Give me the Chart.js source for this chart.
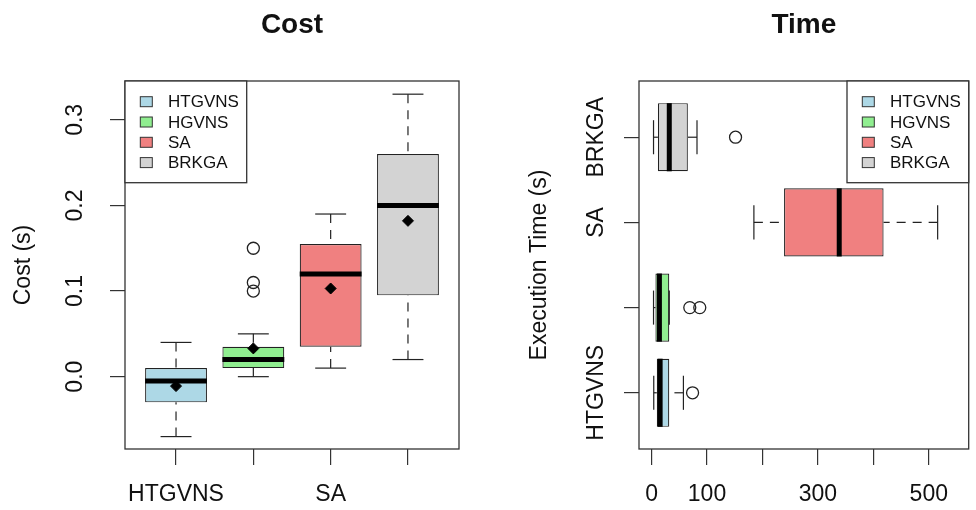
<!DOCTYPE html>
<html>
<head>
<meta charset="utf-8">
<title>Cost and Time</title>
<script src="https://cdn.jsdelivr.net/npm/chart.js"></script>
<style>
  body { margin: 0; background: #fff; }
  .panel { position: absolute; top: 0; width: 488px; height: 510px; }
  #costPanel { left: 0; }
  #timePanel { left: 488px; }
</style>
</head>
<body>
<div class="panel" id="costPanel"><canvas id="costChart" width="488" height="510"></canvas></div>
<div class="panel" id="timePanel"><canvas id="timeChart" width="488" height="510"></canvas></div>
<script>
// algorithms, in plotting order (position 1..4)
const algorithms = ['HTGVNS', 'HGVNS', 'SA', 'BRKGA'];
const fillColors = ['#ADD8E6', '#90EE90', '#F08080', '#D3D3D3'];

// Cost: boxplot stats per algorithm
const costMin = [-0.07, 0.0, 0.01, 0.02];
const costQ1 = [-0.03, 0.01, 0.035, 0.095];
const costMedian = [-0.005, 0.02, 0.12, 0.2];
const costQ3 = [0.01, 0.035, 0.155, 0.26];
const costMax = [0.04, 0.05, 0.19, 0.33];
const costMean = [-0.011, 0.033, 0.103, 0.182];
const costOutliers = [[], [0.10, 0.11, 0.15], [], []];
const costTicks = [0, 0.1, 0.2, 0.3];
const costTickLabels = ['0.0', '0.1', '0.2', '0.3'];
const costCatLabels = ['HTGVNS', '', 'SA', ''];

// Time: boxplot stats per algorithm (seconds)
const timeMin = [4, 3.6, 184.6, 3.6];
const timeQ1 = [9.5, 7, 239, 11.5];
const timeMedian = [15.5, 14.2, 338.5, 32];
const timeQ3 = [32, 32, 418.5, 65.5];
const timeMax = [57.5, 32, 516, 82];
const timeOutliers = [[74], [69, 87], [], [151.5]];
const timeTicks = [0, 100, 200, 300, 400, 500];
const timeTickLabels = ['0', '100', '', '300', '', '500'];
const timeCatLabels = ['HTGVNS', '', 'SA', 'BRKGA'];

const FONT = '"Liberation Sans", Arial, Helvetica, sans-serif';
Chart.defaults.font.family = FONT;
Chart.defaults.color = '#111';

function seg(ctx, a, b) {
  ctx.beginPath();
  ctx.moveTo(a[0], a[1]);
  ctx.lineTo(b[0], b[1]);
  ctx.stroke();
}

// whiskers, staples, medians, frame, rotated labels, legend, title
function boxParts(s) {
  return {
    id: 'boxParts',
    afterDatasetDraw(chart, args) {
      if (args.index !== 0) return;
      const ctx = chart.ctx;
      const iScale = s.horizontal ? chart.scales.y : chart.scales.x;
      const vScale = s.horizontal ? chart.scales.x : chart.scales.y;
      const pt = (i, v) => s.horizontal
        ? [vScale.getPixelForValue(v), iScale.getPixelForValue(i)]
        : [iScale.getPixelForValue(i), vScale.getPixelForValue(v)];
      ctx.save();
      ctx.strokeStyle = '#222';
      ctx.lineCap = 'butt';
      for (let k = 0; k < algorithms.length; k++) {
        const c = k + 1;
        ctx.lineWidth = 1.2;
        ctx.setLineDash([9, 7]);
        seg(ctx, pt(c, s.min[k]), pt(c, s.q1[k]));
        seg(ctx, pt(c, s.max[k]), pt(c, s.q3[k]));
        ctx.setLineDash([]);
        seg(ctx, pt(c - 0.2, s.min[k]), pt(c + 0.2, s.min[k]));
        seg(ctx, pt(c - 0.2, s.max[k]), pt(c + 0.2, s.max[k]));
        ctx.lineWidth = 5;
        ctx.strokeStyle = '#000';
        seg(ctx, pt(c - 0.4, s.median[k]), pt(c + 0.4, s.median[k]));
        ctx.strokeStyle = '#222';
      }
      ctx.restore();
    },
    afterDraw(chart) {
      const ctx = chart.ctx;
      const a = chart.chartArea;
      ctx.save();
      // plot frame
      ctx.strokeStyle = '#333';
      ctx.lineWidth = 1.3;
      ctx.strokeRect(a.left, a.top, a.right - a.left, a.bottom - a.top);

      // rotated tick labels on the left axis
      ctx.fillStyle = '#111';
      ctx.font = '23px ' + FONT;
      ctx.textAlign = 'center';
      ctx.textBaseline = 'alphabetic';
      const yScale = chart.scales.y;
      s.yTicks.forEach((v, k) => {
        if (!s.yLabels[k]) return;
        ctx.save();
        ctx.translate(s.yLabelX, yScale.getPixelForValue(v));
        ctx.rotate(-Math.PI / 2);
        ctx.fillText(s.yLabels[k], 0, 0);
        ctx.restore();
      });

      // title
      ctx.font = 'bold 28px ' + FONT;
      ctx.fillText(s.title, (a.left + a.right) / 2, 33);

      // legend
      const w = 121.7, h = 101.7;
      const lx = s.legendRight ? a.right - w : a.left;
      const ly = a.top;
      ctx.fillStyle = '#fff';
      ctx.fillRect(lx, ly, w, h);
      ctx.strokeRect(lx, ly, w, h);
      ctx.font = '17px ' + FONT;
      ctx.textAlign = 'left';
      ctx.textBaseline = 'middle';
      ctx.lineWidth = 1;
      algorithms.forEach((name, k) => {
        const cy = ly + 20.7 + 20.3 * k;
        ctx.fillStyle = fillColors[k];
        ctx.fillRect(lx + 15.3, cy - 5, 12, 10);
        ctx.strokeStyle = '#333';
        ctx.strokeRect(lx + 15.3, cy - 5, 12, 10);
        ctx.fillStyle = '#111';
        ctx.fillText(name, lx + 43, cy + 1);
      });
      ctx.restore();
    }
  };
}

const tickGrid = {
  drawOnChartArea: false,
  drawTicks: true,
  color: '#333',
  lineWidth: 1.2,
  offset: false
};

// ---------- Cost (vertical boxplots) ----------
const costBoxes = algorithms.map((n, k) => ({ x: k + 1, y: [costQ1[k], costQ3[k]] }));
const costOut = [];
costOutliers.forEach((list, k) => list.forEach(v => costOut.push({ x: k + 1, y: v })));
const costMeans = costMean.map((v, k) => ({ x: k + 1, y: v }));

new Chart(document.getElementById('costChart'), {
  type: 'bar',
  data: {
    datasets: [
      {
        type: 'bar', data: costBoxes, order: 3,
        backgroundColor: fillColors, borderColor: '#222', borderWidth: 1.2,
        borderSkipped: false, barPercentage: 0.8, categoryPercentage: 1
      },
      {
        type: 'scatter', data: costOut, order: 2,
        pointStyle: 'circle', pointRadius: 6, pointBorderWidth: 1.3,
        pointBorderColor: '#222', pointBackgroundColor: 'rgba(0,0,0,0)'
      },
      {
        type: 'scatter', data: costMeans, order: 1,
        pointStyle: 'rectRot', pointRadius: 5.5, pointBorderWidth: 1,
        pointBorderColor: '#000', pointBackgroundColor: '#000'
      }
    ]
  },
  options: {
    responsive: false,
    animation: false,
    events: [],
    layout: { padding: { top: 81, right: 29, left: 0, bottom: 0 } },
    plugins: { legend: { display: false }, tooltip: { enabled: false } },
    scales: {
      x: {
        type: 'linear', min: 0.34, max: 4.66, offset: false,
        grid: Object.assign({ tickLength: 16 }, tickGrid),
        border: { display: false },
        afterBuildTicks: sc => { sc.ticks = algorithms.map((n, k) => ({ value: k + 1 })); },
        afterFit: sc => { sc.height = 61; },
        ticks: {
          autoSkip: false, maxRotation: 0, minRotation: 0, padding: 16,
          font: { size: 23 }, color: '#111',
          callback: (v, k) => costCatLabels[k]
        }
      },
      y: {
        type: 'linear', min: -0.0845, max: 0.3454,
        grid: Object.assign({ tickLength: 15 }, tickGrid),
        border: { display: false },
        afterBuildTicks: sc => { sc.ticks = costTicks.map(v => ({ value: v })); },
        afterFit: sc => { sc.width = 125; },
        ticks: { display: false },
        title: {
          display: true, text: 'Cost (s)', color: '#111',
          font: { size: 23 }, padding: { top: 10, bottom: 0 }
        }
      }
    }
  },
  plugins: [boxParts({
    horizontal: false, title: 'Cost', legendRight: false,
    min: costMin, q1: costQ1, median: costMedian, q3: costQ3, max: costMax,
    yTicks: costTicks, yLabels: costTickLabels, yLabelX: 82
  })]
});

// ---------- Time (horizontal boxplots) ----------
const timeBoxes = algorithms.map((n, k) => ({ y: k + 1, x: [timeQ1[k], timeQ3[k]] }));
const timeOut = [];
timeOutliers.forEach((list, k) => list.forEach(v => timeOut.push({ x: v, y: k + 1 })));
const timeCatPos = algorithms.map((n, k) => k + 1);

new Chart(document.getElementById('timeChart'), {
  type: 'bar',
  data: {
    datasets: [
      {
        type: 'bar', indexAxis: 'y', data: timeBoxes, order: 3,
        backgroundColor: fillColors, borderColor: '#222', borderWidth: 1.2,
        borderSkipped: false, barPercentage: 0.8, categoryPercentage: 1
      },
      {
        type: 'scatter', data: timeOut, order: 2,
        pointStyle: 'circle', pointRadius: 6, pointBorderWidth: 1.3,
        pointBorderColor: '#222', pointBackgroundColor: 'rgba(0,0,0,0)'
      }
    ]
  },
  options: {
    responsive: false,
    animation: false,
    events: [],
    layout: { padding: { top: 81, right: 2, left: 0, bottom: 0 } },
    plugins: { legend: { display: false }, tooltip: { enabled: false } },
    scales: {
      x: {
        type: 'linear', min: -22.6, max: 572, offset: false,
        grid: Object.assign({ tickLength: 16 }, tickGrid),
        border: { display: false },
        afterBuildTicks: sc => { sc.ticks = timeTicks.map(v => ({ value: v })); },
        afterFit: sc => { sc.height = 61; },
        ticks: {
          autoSkip: false, maxRotation: 0, minRotation: 0, padding: 16,
          font: { size: 23 }, color: '#111',
          callback: (v, k) => timeTickLabels[k]
        }
      },
      y: {
        type: 'linear', min: 0.34, max: 4.66, offset: false,
        grid: Object.assign({ tickLength: 15 }, tickGrid),
        border: { display: false },
        afterBuildTicks: sc => { sc.ticks = timeCatPos.map(v => ({ value: v })); },
        afterFit: sc => { sc.width = 151; },
        ticks: { display: false },
        title: {
          display: true, text: 'Execution Time (s)', color: '#111',
          font: { size: 23 }, padding: { top: 38, bottom: 0 }
        }
      }
    }
  },
  plugins: [boxParts({
    horizontal: true, title: 'Time', legendRight: true,
    min: timeMin, q1: timeQ1, median: timeMedian, q3: timeQ3, max: timeMax,
    yTicks: timeCatPos, yLabels: timeCatLabels, yLabelX: 115
  })]
});
</script>
</body>
</html>
